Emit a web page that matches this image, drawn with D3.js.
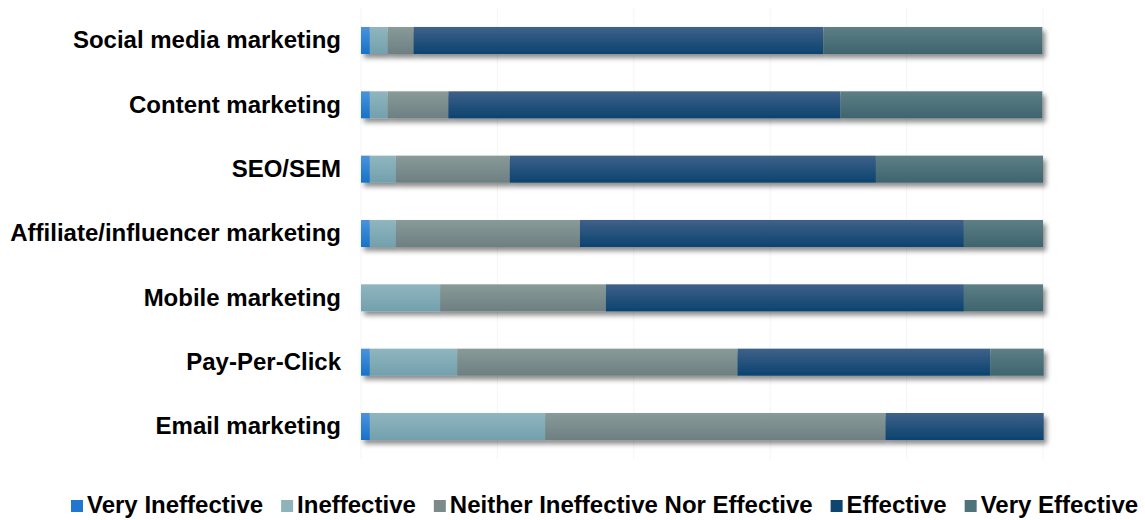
<!DOCTYPE html>
<html>
<head>
<meta charset="utf-8">
<script src="https://cdn.jsdelivr.net/npm/d3@7"></script>
<style>
  body { margin: 0; background: #fff; }
  text { font-family: "Liberation Sans", Arial, sans-serif; font-weight: bold; fill: #000; }
</style>
</head>
<body>
<svg id="chart" width="1145" height="520"></svg>
<script>
// data (percent of respondents)
var categories = ['Social media marketing', 'Content marketing', 'SEO/SEM',
    'Affiliate/influencer marketing', 'Mobile marketing', 'Pay-Per-Click', 'Email marketing'];
var seriesNames = ['Very Ineffective', 'Ineffective', 'Neither Ineffective Nor Effective', 'Effective', 'Very Effective'];
var veryIneffective = [1.3, 1.3, 1.3, 1.3, 0, 1.3, 1.3];
var ineffective = [2.6, 2.6, 3.8, 3.8, 11.6, 12.8, 25.7];
var neither = [3.8, 8.9, 16.7, 27.0, 24.3, 41.1, 49.9];
var effective = [60.1, 57.5, 53.7, 56.3, 52.5, 37.1, 23.2];
var veryEffective = [32.1, 29.6, 24.5, 11.6, 11.6, 7.8, 0];
var xTicks = [0, 20, 40, 60, 80, 100];

// gradient top/bottom colours + legend swatch colour per series
var colors = [
    {top: '#4b93dc', bottom: '#1672c8', key: '#1f77d0'},
    {top: '#90b6bf', bottom: '#72a0ad', key: '#8fb3bb'},
    {top: '#889b98', bottom: '#6d7f82', key: '#7d8a8a'},
    {top: '#3f6189', bottom: '#0b436f', key: '#0e4570'},
    {top: '#5d7f85', bottom: '#3e646e', key: '#4e7378'}
];

var allSeries = [veryIneffective, ineffective, neither, effective, veryEffective];
var rows = categories.map(function (c, i) {
    var row = {name: c};
    seriesNames.forEach(function (s, j) { row[s] = allSeries[j][i]; });
    return row;
});
var stacked = d3.stack().keys(seriesNames)(rows);

var svg = d3.select('#chart');
var margin = {left: 361, right: 102};
var w = 1145;

var xScale = d3.scaleLinear().domain([0, 100]).range([margin.left, w - margin.right]);
var yScale = d3.scaleBand().domain(categories).range([8, 459])
    .paddingInner(0.58).paddingOuter(0.295);

var defs = svg.append('defs');
colors.forEach(function (c, i) {
    var g = defs.append('linearGradient').attr('id', 'grad' + i)
        .attr('x1', 0).attr('y1', 0).attr('x2', 0).attr('y2', 1);
    g.append('stop').attr('offset', '0%').attr('stop-color', c.top);
    g.append('stop').attr('offset', '100%').attr('stop-color', c.bottom);
});
var shadow = defs.append('filter').attr('id', 'shadow')
    .attr('x', '-5%').attr('y', '-30%').attr('width', '115%').attr('height', '180%');
shadow.append('feDropShadow').attr('dx', 3).attr('dy', 4).attr('stdDeviation', 2.5)
    .attr('flood-color', '#000').attr('flood-opacity', 0.45);

// faint gridlines
svg.append('g').selectAll('line').data(xTicks).enter().append('line')
    .attr('x1', d => xScale(d)).attr('x2', d => xScale(d))
    .attr('y1', 8).attr('y2', 459)
    .attr('stroke', '#f5f5f5').attr('stroke-width', 1);

// bars, one group per row so the shadow falls under the whole bar
var barGroups = svg.append('g').selectAll('g').data(categories).enter().append('g')
    .attr('filter', 'url(#shadow)');
barGroups.each(function (cat, i) {
    d3.select(this).selectAll('rect').data(stacked).enter().append('rect')
        .attr('x', s => xScale(s[i][0]))
        .attr('width', s => Math.max(0, xScale(s[i][1]) - xScale(s[i][0])))
        .attr('y', yScale(cat))
        .attr('height', yScale.bandwidth())
        .attr('fill', (s, j) => 'url(#grad' + j + ')');
});

// category labels
var yAxis = d3.axisLeft(yScale).tickSize(0).tickPadding(20);
svg.append('g').attr('transform', 'translate(' + margin.left + ',0)')
    .call(yAxis)
    .call(g => g.select('.domain').remove())
    .selectAll('text')
    .attr('font-size', '24px')
    .style('font-family', '"Liberation Sans", Arial, sans-serif')
    .style('font-weight', 'bold')
    .attr('fill', '#000');

// legend (kept just inside the bottom edge)
var legend = svg.append('g').attr('transform', 'translate(71,505)');
var lx = 0;
seriesNames.forEach(function (name, i) {
    var item = legend.append('g').attr('transform', 'translate(' + lx + ',0)');
    item.append('rect').attr('x', 0).attr('y', -5).attr('width', 12).attr('height', 12)
        .attr('fill', colors[i].key);
    var t = item.append('text').attr('x', 16).attr('y', 0).attr('dy', '0.35em')
        .attr('font-size', '24px').text(name);
    lx += 16 + t.node().getComputedTextLength() + 18;
});
</script>
</body>
</html>
